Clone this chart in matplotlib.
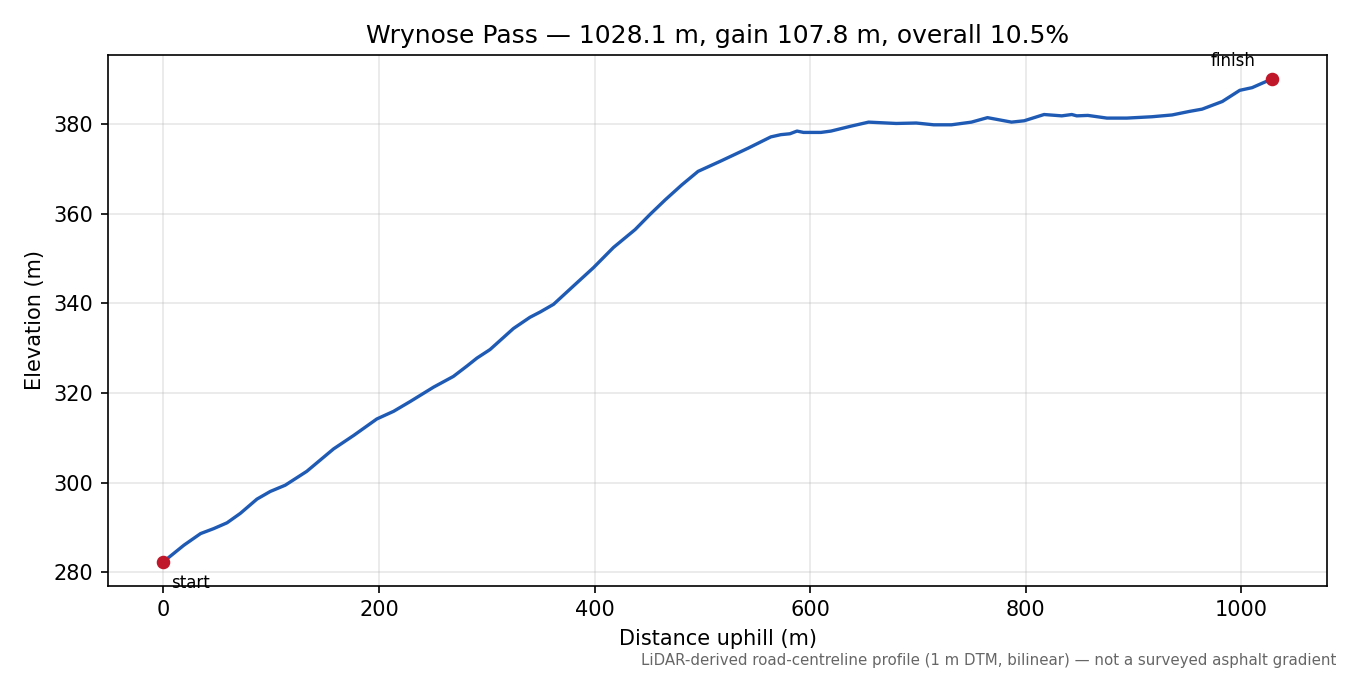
import matplotlib
matplotlib.use("Agg")
import matplotlib.pyplot as plt

distance_m = [0, 19, 34.5, 46.6, 59, 71.3, 86.8, 99.1, 113, 133, 157.8, 176.4, 198, 213.5,
              229, 250.6, 269, 281.5, 290.9, 303, 324.7, 340, 349.6, 361.9, 380.4, 399,
              417.5, 437.6, 451.5, 465.8, 481, 496, 517, 542.6, 563.5, 572.8, 581.2, 587.8, 593.8,
              610, 619.3, 637.9, 654.2, 679.8, 698.4, 714.7, 731, 749.6, 764.5, 786.8,
              798.5, 817, 833.4, 842.7, 847.3, 857.6, 875.3, 893.8, 917, 935.7, 952,
              963.6, 982.3, 998.5, 1010, 1019.4, 1028.1]
elevation_m = [282.3, 286.0, 288.6, 289.7, 291.0, 293.1, 296.3, 298.0, 299.4, 302.5, 307.5,
               310.5, 314.2, 315.9, 318.1, 321.3, 323.7, 326.0, 327.8, 329.7, 334.4, 336.9,
               338.1, 339.8, 343.9, 348.0, 352.5, 356.5, 359.9, 363.2, 366.5, 369.5, 371.8, 374.7,
               377.2, 377.7, 377.9, 378.5, 378.2, 378.2, 378.5, 379.6, 380.5, 380.2, 380.3,
               379.9, 379.9, 380.5, 381.5, 380.5, 380.8, 382.2, 381.9, 382.2, 381.9, 382.0,
               381.4, 381.4, 381.7, 382.1, 382.9, 383.4, 385.1, 387.6, 388.2, 389.2, 390.1]

title = "Wrynose Pass — 1028.1 m, gain 107.8 m, overall 10.5%"
footer = "LiDAR-derived road-centreline profile (1 m DTM, bilinear) — not a surveyed asphalt gradient"

fig = plt.figure(figsize=(9, 4.5), dpi=150)
ax = fig.add_axes([0.08, 0.132, 0.903, 0.7865])
ax.plot(distance_m, elevation_m, color="#1f5bb4", lw=1.6, zorder=3)
ax.plot([distance_m[0], distance_m[-1]], [elevation_m[0], elevation_m[-1]], "o",
        color="#c0182a", ms=5.5, zorder=4)
ax.annotate("start", (distance_m[0], elevation_m[0]), xytext=(8, -21),
            textcoords="offset pixels", fontsize=8, ha="left", va="center")
ax.annotate("finish", (distance_m[-1], elevation_m[-1]), xytext=(-39, 18),
            textcoords="offset pixels", fontsize=8, ha="center", va="center")
ax.set_title(title, fontsize=12)
ax.set_xlabel("Distance uphill (m)", fontsize=10)
ax.set_ylabel("Elevation (m)", fontsize=10)
ax.tick_params(labelsize=10)
ax.grid(True, alpha=0.3)
fig.text(0.99, 0.022, footer, ha="right", va="center", fontsize=7.2, color="#666666")
fig.savefig("out.png", dpi=150)
